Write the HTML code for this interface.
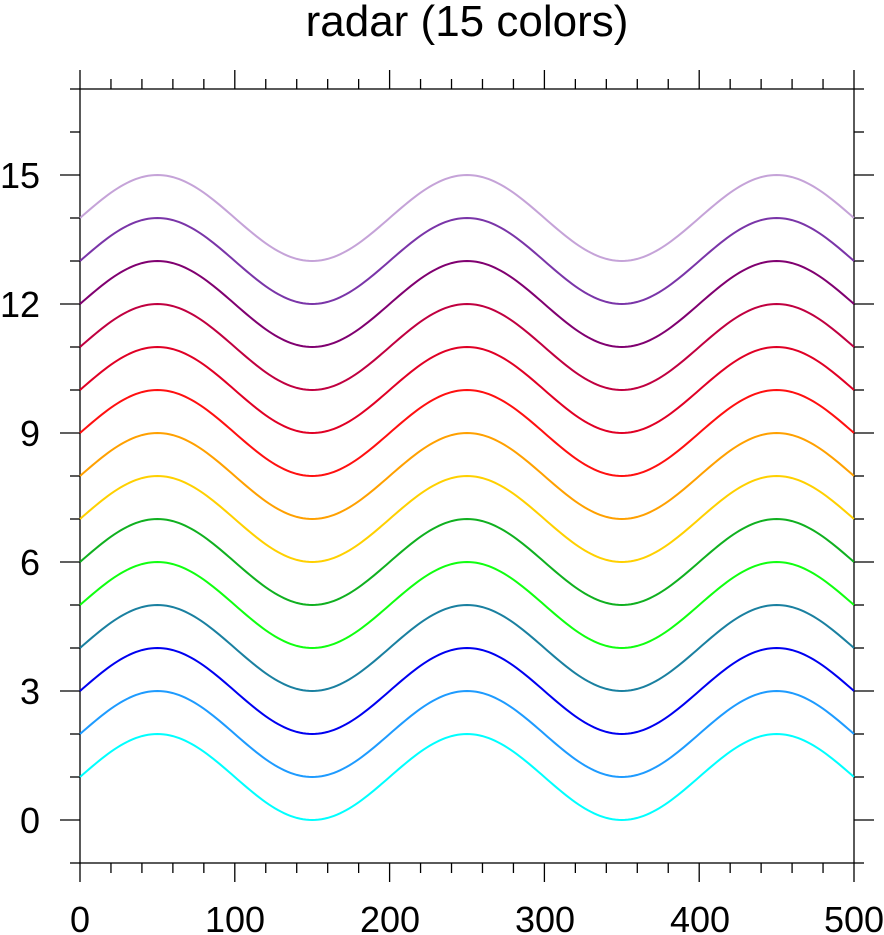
<!DOCTYPE html>
<html><head><meta charset="utf-8"><style>
body{margin:0;background:#fff;width:884px;height:935px;overflow:hidden}
svg{display:block}
text{font-family:"Liberation Sans",sans-serif;fill:#000}
</style></head><body>
<svg id="s" width="884" height="935" xmlns="http://www.w3.org/2000/svg">
<text x="467" y="36" font-size="44" text-anchor="middle">radar (15 colors)</text>
<rect x="80" y="89" width="774" height="774" fill="none" stroke="#000" stroke-width="1.3"/>
<g id="t" stroke="#000" stroke-width="1.3"></g>
<g id="c" fill="none" stroke-width="2"></g>
<g font-size="36" text-anchor="middle">
<text x="80" y="932">0</text><text x="235" y="932">100</text><text x="390" y="932">200</text><text x="545" y="932">300</text><text x="700" y="932">400</text><text x="854" y="932">500</text>
</g>
<g font-size="36" text-anchor="end">
<text x="40" y="833">0</text><text x="40" y="704">3</text><text x="40" y="575">6</text><text x="40" y="446">9</text><text x="40" y="317">12</text><text x="40" y="188">15</text>
</g>
</svg>
<script>
var X=function(v){return 80+v*774/500},Y=function(v){return 820-v*43};
var t=document.getElementById('t'),h='';
for(var v=0;v<=500;v+=20){var x=X(v),L=(v%100==0)?19:10;
h+='<line x1="'+x+'" y1="89" x2="'+x+'" y2="'+(89-L)+'"/><line x1="'+x+'" y1="863" x2="'+x+'" y2="'+(863+L)+'"/>';}
for(var v=-1;v<=17;v++){var y=Y(v),L=(v%3==0)?20:10;
h+='<line x1="80" y1="'+y+'" x2="'+(80-L)+'" y2="'+y+'"/><line x1="854" y1="'+y+'" x2="'+(854+L)+'" y2="'+y+'"/>';}
t.innerHTML=h;
var cols=['#00ffff','#1e9bff','#0000f0','#1a80a0','#10ff10','#10b020','#ffd000','#ffa000','#ff1010','#e00025','#c00040','#800070','#7a35a8','#c5a3d8'];
var c=document.getElementById('c'),g='';
for(var i=0;i<14;i++){var d='';for(var v=0;v<=500;v+=2){d+=(v?'L':'M')+X(v).toFixed(2)+' '+Y(i+1+Math.sin(2*Math.PI*v/200)).toFixed(2);}
g+='<path d="'+d+'" stroke="'+cols[i]+'"/>';}
c.innerHTML=g;
</script>
</body></html>
